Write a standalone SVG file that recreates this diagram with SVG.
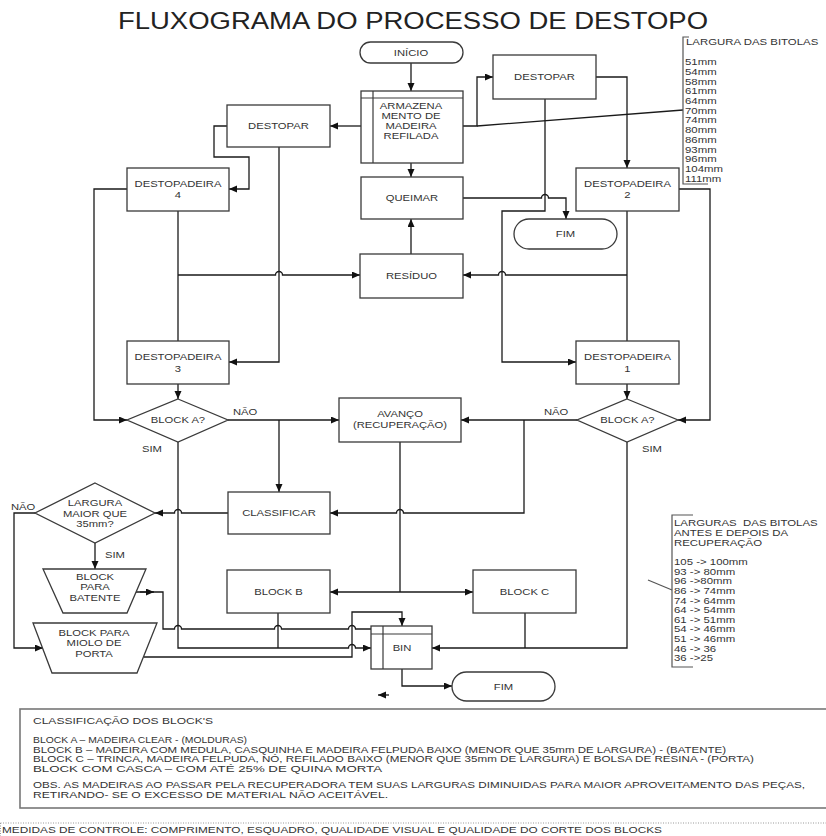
<svg xmlns="http://www.w3.org/2000/svg" width="826" height="836" viewBox="0 0 826 836">
  <style>
    text { font-family: "Liberation Sans", Arial, sans-serif; fill: #333; }
    .lbl { font-size: 9.6px; text-anchor: middle; transform-box: fill-box; transform-origin: 50% 50%; transform: scaleX(1.17); }
    .tag { font-size: 9.6px; transform-box: fill-box; transform-origin: 0 50%; transform: scaleX(1.17); }
    .leg { font-size: 9.2px; transform-box: fill-box; transform-origin: 0 50%; transform: scaleX(1.24); }
    .note { font-size: 8.8px; }
    .title { font-size: 23px; fill: #222; }
    .shape { fill: #fff; stroke: #3a3a3a; stroke-width: 1.3; }
    .inner { fill: none; stroke: #3a3a3a; stroke-width: 1.2; }
    #connectors path { fill: none; stroke: #1a1a1a; stroke-width: 1.3; }
    #connectors path.arr { marker-end: url(#head); }
    .bracket { fill: none; stroke: #555; stroke-width: 1.2; }
  </style>
  <defs>
    <marker id="head" markerUnits="userSpaceOnUse" markerWidth="9" markerHeight="8" refX="8" refY="3.5" orient="auto">
      <path d="M0,0 L8,3.5 L0,7 z" fill="#111"/>
    </marker>
  </defs>

  <rect width="826" height="836" fill="#fff"/>

  <text class="title" x="118" y="29" textLength="590" lengthAdjust="spacingAndGlyphs">FLUXOGRAMA DO PROCESSO DE DESTOPO</text>

  <!-- connectors -->
  <g id="connectors">
    <path class="arr" d="M411,63 V91"/>
    <path class="arr" d="M411,163 V177"/>
    <path class="arr" d="M411,254 V219"/>
    <path class="arr" d="M463,126 H477 V77 H493"/>
    <path d="M477,126 L683,110"/>
    <path class="arr" d="M596,77 H627 V168"/>
    <path class="arr" d="M545,99 V211 H502 V362 H576"/>
    <path class="arr" d="M463,198 H541.5 a3.5,3.5 0 0 1 7,0 H566 V219"/>
    <path class="arr" d="M361,126 H330"/>
    <path class="arr" d="M227,126 H214 V157 H249 V189 H229"/>
    <path class="arr" d="M279,147 V362 H229"/>
    <path d="M178,211 V341"/>
    <path class="arr" d="M178,275 H275.5 a3.5,3.5 0 0 1 7,0 H360"/>
    <path d="M627,211 V341"/>
    <path class="arr" d="M627,275 H505.5 a3.5,3.5 0 0 0 -7,0 H463"/>
    <path class="arr" d="M127,189 H94 V420 H127"/>
    <path class="arr" d="M178,384 V399"/>
    <path class="arr" d="M679,189 H710 V420 H678"/>
    <path class="arr" d="M627,384 V399"/>
    <path class="arr" d="M228,420 H339"/>
    <path class="arr" d="M279,420 V492"/>
    <path class="arr" d="M577,420 H461"/>
    <path class="arr" d="M524,420 V513 H403.5 a3.5,3.5 0 0 0 -7,0 H330"/>
    <path class="arr" d="M228,513 H181.5 a3.5,3.5 0 0 0 -7,0 H155"/>
    <path d="M400,442 V592"/>
    <path class="arr" d="M400,592 H330"/>
    <path class="arr" d="M400,592 H473"/>
    <path class="arr" d="M95,543 V569"/>
    <path class="arr" d="M35,513 H14 V648 H43"/>
    <path class="arr" d="M178,442 V648 H348.5 a3.5,3.5 0 0 1 7,0 H371"/>
    <path d="M278,613 V648"/>
    <path d="M136,592 H163 V629 H174.5 a3.5,3.5 0 0 1 7,0 H274.5 a3.5,3.5 0 0 1 7,0 H348.5 a3.5,3.5 0 0 1 7,0 H371"/>
    <path class="arr" d="M140,592 H154"/>
    <path class="arr" d="M144,657 H352 V612 H402 V626"/>
    <path class="arr" d="M627,442 V648 H432"/>
    <path d="M525,613 V648"/>
    <path class="arr" d="M402,669 V686 H452"/>
    <path class="arr" d="M389,695 H378"/>
  </g>

  <!-- nodes -->
  <g id="inicio">
    <rect class="shape" x="360" y="42" width="103" height="21" rx="10.5"/>
    <text class="lbl" x="411" y="56.5">INÍCIO</text>
  </g>
  <g id="armazenamento">
    <rect class="shape" x="361" y="91" width="102" height="72"/>
    <path class="inner" d="M373,91 V163 M361,98 H463"/>
    <text class="lbl" x="411" y="109.5">ARMAZENA</text>
    <text class="lbl" x="411" y="119.5">MENTO DE</text>
    <text class="lbl" x="411" y="129.5">MADEIRA</text>
    <text class="lbl" x="411" y="139.5">REFILADA</text>
  </g>
  <g id="destopar-direita">
    <rect class="shape" x="493" y="55" width="103" height="44"/>
    <text class="lbl" x="544.5" y="80.5">DESTOPAR</text>
  </g>
  <g id="destopar-esquerda">
    <rect class="shape" x="227" y="105" width="103" height="42"/>
    <text class="lbl" x="278.5" y="129.5">DESTOPAR</text>
  </g>
  <g id="queimar">
    <rect class="shape" x="361" y="177" width="102" height="42"/>
    <text class="lbl" x="412" y="201.5">QUEIMAR</text>
  </g>
  <g id="fim-superior">
    <rect class="shape" x="514" y="219" width="103" height="30" rx="15"/>
    <text class="lbl" x="565.5" y="237.5">FIM</text>
  </g>
  <g id="destopadeira-4">
    <rect class="shape" x="127" y="168" width="102" height="43"/>
    <text class="lbl" x="178" y="187.5">DESTOPADEIRA</text>
    <text class="lbl" x="178" y="198.5">4</text>
  </g>
  <g id="destopadeira-2">
    <rect class="shape" x="576" y="168" width="103" height="43"/>
    <text class="lbl" x="627.5" y="187.5">DESTOPADEIRA</text>
    <text class="lbl" x="627.5" y="198.5">2</text>
  </g>
  <g id="residuo">
    <rect class="shape" x="360" y="254" width="103" height="44"/>
    <text class="lbl" x="411.5" y="279.5">RESÍDUO</text>
  </g>
  <g id="destopadeira-3">
    <rect class="shape" x="127" y="341" width="102" height="43"/>
    <text class="lbl" x="178" y="360.5">DESTOPADEIRA</text>
    <text class="lbl" x="178" y="371.5">3</text>
  </g>
  <g id="destopadeira-1">
    <rect class="shape" x="576" y="341" width="103" height="43"/>
    <text class="lbl" x="627.5" y="360.5">DESTOPADEIRA</text>
    <text class="lbl" x="627.5" y="371.5">1</text>
  </g>
  <g id="block-a-esquerda">
    <polygon class="shape" points="178,399 228,420 178,442 127,420"/>
    <text class="lbl" x="178" y="423.5">BLOCK A?</text>
    <text class="tag" x="233" y="415.5">NÃO</text>
    <text class="tag" x="142" y="452.5">SIM</text>
  </g>
  <g id="block-a-direita">
    <polygon class="shape" points="627,399 678,420 627,442 577,420"/>
    <text class="lbl" x="627.5" y="423.5">BLOCK A?</text>
    <text class="tag" x="544" y="415.5">NÃO</text>
    <text class="tag" x="642" y="452.5">SIM</text>
  </g>
  <g id="avanco">
    <rect class="shape" x="339" y="398" width="122" height="44"/>
    <text class="lbl" x="400" y="417">AVANÇO</text>
    <text class="lbl" x="400" y="428">(RECUPERAÇÃO)</text>
  </g>
  <g id="classificar">
    <rect class="shape" x="228" y="492" width="102" height="42"/>
    <text class="lbl" x="279" y="516.5">CLASSIFICAR</text>
  </g>
  <g id="largura">
    <polygon class="shape" points="95,483 155,513 95,543 35,513"/>
    <text class="lbl" x="95" y="506.5">LARGURA</text>
    <text class="lbl" x="95" y="517">MAIOR QUE</text>
    <text class="lbl" x="95" y="527.5">35mm?</text>
    <text class="tag" x="11" y="510.5">NÃO</text>
    <text class="tag" x="105" y="558.5">SIM</text>
  </g>
  <g id="block-batente">
    <polygon class="shape" points="43,569 146,569 127,613 63,613"/>
    <text class="lbl" x="95" y="580">BLOCK</text>
    <text class="lbl" x="95" y="590.5">PARA</text>
    <text class="lbl" x="95" y="601">BATENTE</text>
  </g>
  <g id="block-miolo">
    <polygon class="shape" points="33,623 157,623 137,673 52,673"/>
    <text class="lbl" x="94" y="636">BLOCK PARA</text>
    <text class="lbl" x="94" y="646.5">MIOLO DE</text>
    <text class="lbl" x="94" y="657">PORTA</text>
  </g>
  <g id="block-b">
    <rect class="shape" x="227" y="570" width="103" height="43"/>
    <text class="lbl" x="278.5" y="595">BLOCK B</text>
  </g>
  <g id="block-c">
    <rect class="shape" x="473" y="570" width="103" height="43"/>
    <text class="lbl" x="524.5" y="595">BLOCK C</text>
  </g>
  <g id="bin">
    <rect class="shape" x="371" y="626" width="61" height="43"/>
    <path class="inner" d="M383,626 V669 M371,634 H432"/>
    <text class="lbl" x="402" y="651">BIN</text>
  </g>
  <g id="fim-inferior">
    <rect class="shape" x="452" y="672" width="103" height="29" rx="14.5"/>
    <text class="lbl" x="503.5" y="690">FIM</text>
  </g>

  <!-- gauge widths -->
  <g id="legenda-bitolas">
    <path class="bracket" d="M689,37 H683 V184 H708"/>
    <text class="leg" x="686" y="45.5">LARGURA DAS BITOLAS</text>
    <text class="leg" x="685" y="65.3">51mm</text>
    <text class="leg" x="685" y="75">54mm</text>
    <text class="leg" x="685" y="84.7">58mm</text>
    <text class="leg" x="685" y="94.4">61mm</text>
    <text class="leg" x="685" y="104.1">64mm</text>
    <text class="leg" x="685" y="113.8">70mm</text>
    <text class="leg" x="685" y="123.5">74mm</text>
    <text class="leg" x="685" y="133.2">80mm</text>
    <text class="leg" x="685" y="142.9">86mm</text>
    <text class="leg" x="685" y="152.6">93mm</text>
    <text class="leg" x="685" y="162.3">96mm</text>
    <text class="leg" x="685" y="172">104mm</text>
    <text class="leg" x="685" y="181.7">111mm</text>
  </g>
  <g id="legenda-recuperacao">
    <path class="bracket" d="M693,515 H672 V667 H693"/>
    <path class="bracket" d="M648,580 L672,590"/>
    <text class="leg" x="674" y="526.3">LARGURAS&#160; DAS BITOLAS</text>
    <text class="leg" x="674" y="536.3">ANTES E DEPOIS DA</text>
    <text class="leg" x="674" y="546.3">RECUPERAÇÃO</text>
    <text class="leg" x="674" y="565.3">105 -&gt; 100mm</text>
    <text class="leg" x="674" y="574.9">93 -&gt; 80mm</text>
    <text class="leg" x="674" y="584.5">96 -&gt;80mm</text>
    <text class="leg" x="674" y="594.1">86 -&gt; 74mm</text>
    <text class="leg" x="674" y="603.7">74 -&gt; 64mm</text>
    <text class="leg" x="674" y="613.3">64 -&gt; 54mm</text>
    <text class="leg" x="674" y="622.9">61 -&gt; 51mm</text>
    <text class="leg" x="674" y="632.5">54 -&gt; 46mm</text>
    <text class="leg" x="674" y="642.1">51 -&gt; 46mm</text>
    <text class="leg" x="674" y="651.7">46 -&gt; 36</text>
    <text class="leg" x="674" y="661.3">36 -&gt;25</text>
  </g>

  <!-- classification notes -->
  <g id="classificacao">
    <rect x="20" y="709" width="822" height="99" fill="none" stroke="#777" stroke-width="1.6"/>
    <text class="note" x="33" y="724" textLength="180" lengthAdjust="spacingAndGlyphs">CLASSIFICAÇÃO DOS BLOCK'S</text>
    <text class="note" x="33" y="743" textLength="214" lengthAdjust="spacingAndGlyphs">BLOCK A – MADEIRA CLEAR - (MOLDURAS)</text>
    <text class="note" x="33" y="752.5" textLength="693" lengthAdjust="spacingAndGlyphs">BLOCK B – MADEIRA COM MEDULA, CASQUINHA E MADEIRA FELPUDA BAIXO (MENOR QUE 35mm DE LARGURA) - (BATENTE)</text>
    <text class="note" x="33" y="762" textLength="721" lengthAdjust="spacingAndGlyphs">BLOCK C – TRINCA, MADEIRA FELPUDA, NÓ, REFILADO BAIXO (MENOR QUE 35mm DE LARGURA) E BOLSA DE RESINA - (PORTA)</text>
    <text class="note" x="33" y="771.5" textLength="349" lengthAdjust="spacingAndGlyphs">BLOCK COM CASCA – COM ATÉ 25% DE QUINA MORTA</text>
    <text class="note" x="33" y="788" textLength="772" lengthAdjust="spacingAndGlyphs">OBS. AS MADEIRAS AO PASSAR PELA RECUPERADORA TEM SUAS LARGURAS DIMINUIDAS PARA MAIOR APROVEITAMENTO DAS PEÇAS,</text>
    <text class="note" x="33" y="797.5" textLength="355" lengthAdjust="spacingAndGlyphs">RETIRANDO- SE O EXCESSO DE MATERIAL NÃO ACEITÁVEL.</text>
  </g>
  <g id="medidas">
    <path d="M0.5,823 H826 M0.5,823 V836" fill="none" stroke="#999" stroke-width="1" stroke-dasharray="1,1.5"/>
    <text class="note" x="2" y="832.5" textLength="660" lengthAdjust="spacingAndGlyphs">MEDIDAS DE CONTROLE: COMPRIMENTO, ESQUADRO, QUALIDADE VISUAL E QUALIDADE DO CORTE DOS BLOCKS</text>
  </g>
</svg>
